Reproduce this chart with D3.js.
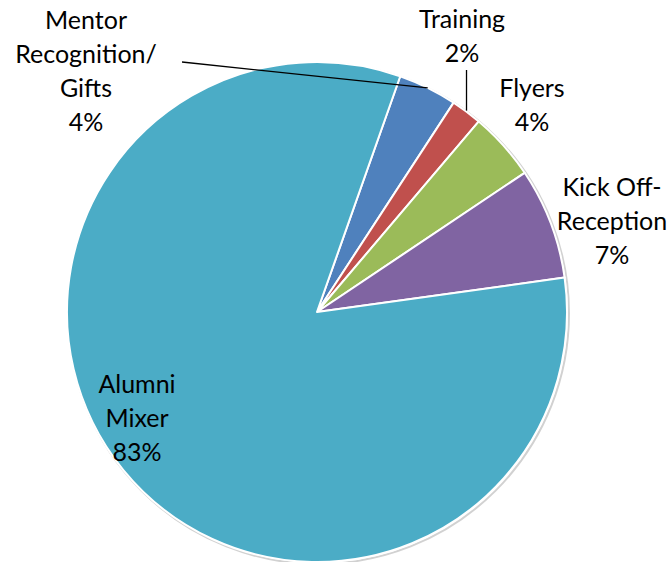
<!DOCTYPE html>
<html>
<head>
<meta charset="utf-8">
<script src="https://cdn.jsdelivr.net/npm/d3@7"></script>
<style>
  body { margin: 0; background: #fff; }
  svg { display: block; }
  text { font-family: Lato, "Open Sans", sans-serif; fill: #000; }
</style>
</head>
<body>
<svg width="670" height="562"></svg>
<script>
const width = 670, height = 562;
const svg = d3.select("svg");

// data, clockwise from the first slice
const categories = ["Mentor Recognition/ Gifts", "Training", "Flyers", "Kick Off- Reception", "Alumni Mixer"];
const values = [3.8, 2.0, 4.4, 7.2, 82.6];
const colors = ["#4F81BD", "#C0504D", "#9BBB59", "#8064A2", "#4BACC6"];

// label lines and where each block sits
const labelLines = [
    ["Mentor", "Recognition/", "Gifts"],
    ["Training"],
    ["Flyers"],
    ["Kick Off-", "Reception"],
    ["Alumni", "Mixer"]
];
const labelPos = [[86, 29], [462, 28], [532, 97], [612, 196], [137, 393]];

const cx = 317, cy = 312, radius = 250;
const startDeg = 19.45;

const pie = d3.pie()
    .sort(null)
    .value(d => d)
    .startAngle(startDeg * Math.PI / 180)
    .endAngle(startDeg * Math.PI / 180 + 2 * Math.PI);

const arc = d3.arc().innerRadius(0).outerRadius(radius);
const arcs = pie(values);
const total = d3.sum(values);

// faint shadow ring
svg.append("circle")
    .attr("cx", cx + 1.5)
    .attr("cy", cy + 1.5)
    .attr("r", radius + 0.5)
    .attr("fill", "none")
    .attr("stroke", "rgba(0,0,0,0.18)")
    .attr("stroke-width", 2);

const g = svg.append("g").attr("transform", `translate(${cx},${cy})`);

g.selectAll("path")
    .data(arcs)
    .enter().append("path")
    .attr("d", arc)
    .attr("fill", (d, i) => colors[i])
    .attr("stroke", "#fff")
    .attr("stroke-width", 2)
    .attr("stroke-linejoin", "round");

// leader lines (Mentor and Training)
const edge = d3.arc().innerRadius(radius).outerRadius(radius);
const mentorPt = edge.centroid(arcs[0]);
svg.append("line")
    .attr("x1", 182).attr("y1", 62)
    .attr("x2", cx + mentorPt[0]).attr("y2", cy + mentorPt[1])
    .attr("stroke", "#000").attr("stroke-width", 1.3);

const trainPt = edge.centroid(arcs[1]);
svg.append("line")
    .attr("x1", cx + trainPt[0]).attr("y1", 70)
    .attr("x2", cx + trainPt[0]).attr("y2", cy + trainPt[1] - 1)
    .attr("stroke", "#000").attr("stroke-width", 1.3);

// labels
const lineH = 34;
labelLines.forEach((lines, i) => {
    const [x, y] = labelPos[i];
    const t = svg.append("text")
        .attr("text-anchor", "middle")
        .style("font-size", "25px");
    const all = lines.concat([Math.round(values[i] / total * 100) + "%"]);
    all.forEach((s, j) => {
        t.append("tspan")
            .attr("x", x)
            .attr("y", y + j * lineH)
            .text(s);
    });
});
</script>
</body>
</html>
